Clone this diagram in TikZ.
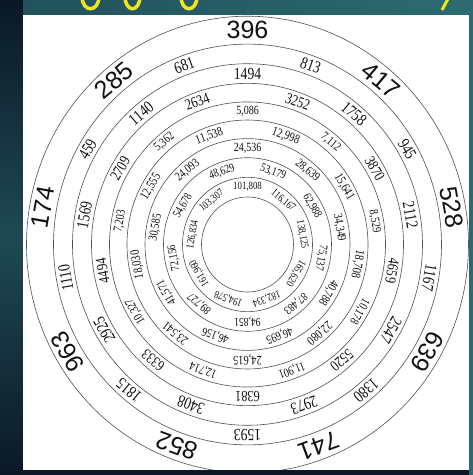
\documentclass[tikz,border=0pt]{standalone}
\usepackage{fontspec}
\usepackage{xcolor}
\usepackage{tikz}
\setmainfont{Liberation Serif}
\newfontfamily\ringsans{Liberation Sans}
\definecolor{slidenavy}{HTML}{0A1826}
\definecolor{slideteal}{HTML}{2C6A72}
\definecolor{titleyellow}{HTML}{F2E41E}
\definecolor{ringline}{HTML}{505050}
\definecolor{ink}{HTML}{111111}

\begin{document}
\begin{tikzpicture}[x=1pt, y=1pt,
    ringnum/.style={inner sep=0pt, text=ink, anchor=center}]
      \useasboundingbox (0,0) rectangle (473,475);
      % Slide background
      \fill[slidenavy] (0,0) rectangle (473,475);
      \shade[top color=slidenavy, bottom color=slidenavy, middle color=slideteal!60!slidenavy]
        (0,0) rectangle (23,475);
      \shade[left color=slideteal!70!slidenavy, right color=slideteal]
        (23,460) rectangle (473,475);
      \fill[slideteal] (469,0) rectangle (473,460);
      % Title fragments
      \begin{scope}
        \clip (0,460) rectangle (473,475);
        \draw[titleyellow, line width=3.5pt] (82,479) .. controls (82,462) and (99,462) .. (99,479);
        \draw[titleyellow, line width=3.5pt] (125,479) .. controls (125,462) and (140,462) .. (140,479);
        \draw[titleyellow, line width=3.5pt] (181,479) .. controls (181,462) and (197,462) .. (197,479);
        \draw[titleyellow, line width=3pt] (449,478) -- (442,465);
      \end{scope}
      % Paper
      \fill[white] (23,5) rectangle (469,460);
      \coordinate (hub) at (247.5,230.5);
      % Rings
      \begin{scope}
        \clip (23,5) rectangle (469,460);
        \foreach \r in {46,65,84,102.5,120.5,138,156,175,194,221}
          \draw[ringline, line width=0.6pt] (hub) ellipse [x radius=\r, y radius=1.033*\r];
      \end{scope}
      % Numbers, clockwise from the top, 40 degrees apart
      \foreach \ring/\rad/\start/\fs/\sx/\face/\labels in {%
        I/55.5/90/11/0.8/\rmfamily/{{101,808},{116,167},{138,125},{165,620},{182,334},{194,578},{161,960},{126,834},{103,307}},
        H/74.5/110/12/0.8/\rmfamily/{{48,629},{53,179},{62,988},{75,137},{87,483},{94,851},{89,727},{72,156},{54,678}},
        G/93.25/90/12.5/0.8/\rmfamily/{{24,536},{28,639},{34,349},{40,788},{46,695},{46,156},{41,571},{30,585},{24,093}},
        F/111.5/110/13/0.8/\rmfamily/{{11,538},{12,998},{15,641},{18,708},{22,080},{24,615},{23,541},{18,030},{12,555}},
        E/129.25/90/12.5/0.8/\rmfamily/{{5,086},{7,112},{8,529},{10,178},{11,901},{12,714},{10,327},{7,203},{5,362}},
        D/147/110/15.5/0.8/\rmfamily/{2634,3252,3870,4659,5520,6381,6333,4494,2709},
        C/165.5/90/17/0.8/\rmfamily/{1494,1758,2112,2547,2973,3408,2925,1569,1140},
        B/184.5/110/17/0.8/\rmfamily/{681,813,945,1167,1380,1593,1815,1110,459},
        A/207.5/90/25/1/\ringsans/{396,417,528,639,741,852,963,174,285}%
        } {
        \foreach \lab [count=\k from 0] in \labels {
          \pgfmathsetmacro\ang{\start - 40*\k}
          \pgfmathsetmacro\px{247.5 + \rad*cos(\ang)}
          \pgfmathsetmacro\py{230.5 + 1.033*\rad*sin(\ang)}
          \node[ringnum, font=\face\fontsize{\fs}{\fs}\selectfont, rotate=\ang-90]
            (\ring-\k) at (\px, \py) {\scalebox{\sx}[1]{\lab}};
        }
      }
    \end{tikzpicture}
\end{document}
